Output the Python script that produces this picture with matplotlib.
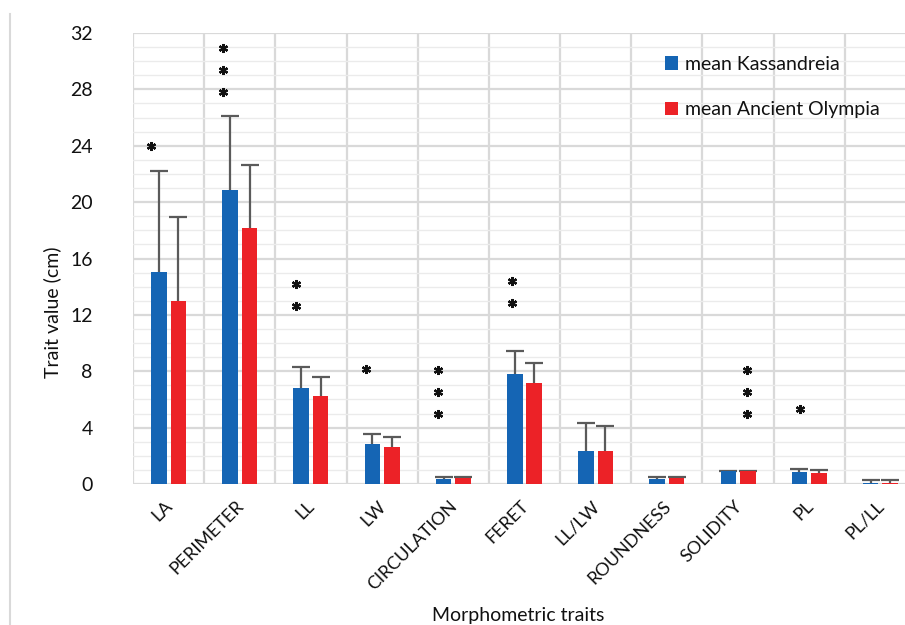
import matplotlib
matplotlib.use("Agg")
import matplotlib.pyplot as plt
import matplotlib.transforms as mtransforms
import numpy as np

plt.rcParams['font.family'] = ['Lato', 'DejaVu Sans']

# data
traits = ['LA', 'PERIMETER', 'LL', 'LW', 'CIRCULATION', 'FERET', 'LL/LW',
          'ROUNDNESS', 'SOLIDITY', 'PL', 'PL/LL']
mean_kas = [15.05, 20.84, 6.81, 2.84, 0.38, 7.83, 2.37, 0.38, 0.91, 0.83, 0.10]
sd_kas = [7.15, 5.26, 1.47, 0.73, 0.14, 1.61, 1.94, 0.12, 0.03, 0.23, 0.16]
mean_ol = [12.99, 18.17, 6.27, 2.60, 0.42, 7.15, 2.37, 0.40, 0.91, 0.76, 0.10]
sd_ol = [5.94, 4.43, 1.33, 0.73, 0.08, 1.44, 1.77, 0.10, 0.03, 0.23, 0.16]

# significance stars: count and height of the lowest star
star_count = [1, 3, 2, 1, 3, 2, 0, 0, 3, 1, 0]
star_base = [23.96, 27.8, 12.6, 8.14, 5.0, 12.87, 0, 0, 4.99, 5.32, 0]
star_dx = [-0.25, -0.24, -0.21, -0.22, -0.21, -0.18, 0, 0, 0.13, -0.13, 0]

blue = '#1565b4'
red = '#ec2227'
grid_major = '#d9d9d9'
grid_minor = '#ebebeb'

fig = plt.figure(figsize=(9.05, 6.25), dpi=100)
ax = fig.add_axes([133 / 905, 141 / 625, 783 / 905, 451 / 625])

x = np.arange(len(traits))
w = 0.218
off = 0.137

ax.bar(x - off, mean_kas, w, color=blue, label='mean Kassandreia', zorder=3)
ax.bar(x + off, mean_ol, w, color=red, label='mean Ancient Olympia', zorder=3)

# upper-only error bars, no cap at the bar top
for xs, m, sd in [(x - off, mean_kas, sd_kas), (x + off, mean_ol, sd_ol)]:
    eb = ax.errorbar(xs, m, yerr=[np.zeros(len(xs)), sd], fmt='none',
                     ecolor='#5a5a5a', elinewidth=1.6, capsize=6.5,
                     capthick=1.6, zorder=2.5)
    eb[1][0].set_visible(False)

# stars
for i in range(len(traits)):
    for k in range(star_count[i]):
        ax.plot(x[i] + star_dx[i], star_base[i] + k * 1.56, marker=(6, 2, 0),
                ms=6.5, mew=1.6, color='#111111', zorder=4, clip_on=False)

ax.set_xlim(-0.5, len(traits) - 0.5)
ax.set_ylim(0, 32)
ax.set_yticks(np.arange(0, 33, 4))
ax.set_yticks(np.arange(0, 33, 1), minor=True)
ax.grid(which='minor', axis='y', color=grid_minor, lw=1.0, zorder=0)
ax.grid(which='major', axis='y', color=grid_major, lw=1.6, zorder=0)
for b in np.arange(-0.5, len(traits), 1):
    ax.axvline(b, color=grid_major, lw=1.6, zorder=0)

for s in ax.spines.values():
    s.set_visible(False)
ax.tick_params(axis='y', which='both', length=0, pad=29, labelsize=14,
               labelcolor='#111111')
ax.tick_params(axis='x', length=0)
ax.set_xticks(x)
ax.set_xticklabels([])

offset = mtransforms.ScaledTranslation(1 / 72, -14 / 72, fig.dpi_scale_trans)
for i, t in enumerate(traits):
    ax.text(x[i], 0, t, rotation=45, ha='right', va='center',
            rotation_mode='anchor', fontsize=13, color='#111111',
            transform=ax.get_xaxis_transform() + offset)

ax.set_ylabel('Trait value (cm)', fontsize=14, color='#111111')
ax.yaxis.set_label_coords(61 / 905, 0.5, transform=fig.transFigure)
fig.text(518 / 905, 1 - 616 / 625, 'Morphometric traits', ha='center',
         va='center', fontsize=14, color='#111111')

leg = ax.legend(loc='upper left', bbox_to_anchor=(655 / 905, 1 - 46 / 625),
                bbox_transform=fig.transFigure, frameon=False, fontsize=14,
                handlelength=0.7, handleheight=0.7, handletextpad=0.35,
                labelspacing=1.47, borderpad=0)
for t in leg.get_texts():
    t.set_color('#111111')

# thin frame line on the left edge of the picture
fig.add_artist(plt.Line2D([10 / 905, 10 / 905], [0, 1 - 14 / 625],
                          color='#d9d9d9', lw=1.5, transform=fig.transFigure))

fig.savefig('out.png', dpi=100)
